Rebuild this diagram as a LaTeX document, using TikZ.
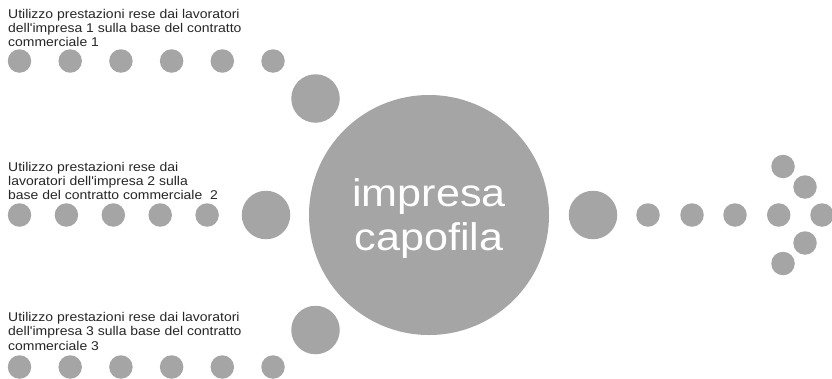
\documentclass[tikz,border=0pt]{standalone}
\usepackage{fontspec}
\newfontfamily\lblfont{Liberation Sans}[FakeStretch=1.1]
\newfontfamily\hubfont{Liberation Sans}[FakeStretch=1.12]
\definecolor{dotgray}{HTML}{A5A5A5}
\definecolor{lbltext}{HTML}{262626}
\begin{document}
\begin{tikzpicture}[x=1pt,y=-1pt,
  dot/.style={circle,fill=dotgray,draw=none,inner sep=0pt,minimum size=23.5pt},
  middot/.style={circle,fill=dotgray,draw=none,inner sep=0pt,minimum size=48.5pt},
  hub/.style={circle,fill=dotgray,draw=none,inner sep=0pt,minimum size=240pt},
  hubtext/.style={anchor=base,inner sep=0pt,text=white,align=center,
    font=\hubfont\fontsize{38.5}{43.3}\selectfont},
  lbl/.style={anchor=base west,inner sep=0pt,align=left,text=lbltext,
    font=\lblfont\fontsize{12.7}{14.1}\selectfont}]
\useasboundingbox (0,0) rectangle (832,378);

% central company (text anchored on the baseline of its last line)
\node[hub] (hub) at (429,215) {};
\node[hubtext] (hubname) at (429,250) {impresa\\capofila};

% upper branch
\foreach \i [evaluate=\i as \xx using 19.5+50.7*(\i-1)] in {1,...,6}
  \node[dot] (a\i) at (\xx,61) {};
\node[middot] (am) at (315.5,98.5) {};
\node[lbl] (alabel) at (8,46.4) {Utilizzo prestazioni rese dai lavoratori\\dell'impresa 1 sulla base del contratto\\commerciale 1};

% middle branch
\foreach \i [evaluate=\i as \xx using 19.5+46.9*(\i-1)] in {1,...,5}
  \node[dot] (b\i) at (\xx,215) {};
\node[middot] (bm) at (266,215) {};
\node[lbl] (blabel) at (8,199.5) {Utilizzo prestazioni rese dai\\lavoratori dell'impresa 2 sulla\\base del contratto commerciale~ 2};

% lower branch
\foreach \i [evaluate=\i as \xx using 19.5+50.7*(\i-1)] in {1,...,6}
  \node[dot] (c\i) at (\xx,367) {};
\node[middot] (cm) at (315.5,330) {};
\node[lbl] (clabel) at (8,350) {Utilizzo prestazioni rese dai lavoratori\\dell'impresa 3 sulla base del contratto\\commerciale 3};

% outgoing arrow
\node[middot] (rm) at (593,215) {};
\node[dot] (r1) at (648,215) {};
\node[dot] (r2) at (692,215) {};
\node[dot] (r3) at (735,215) {};
\node[dot] (r4) at (778.7,215) {};
\node[dot] (tip) at (822,215) {};
\node[dot] (u1) at (783,166.5) {};
\node[dot] (u2) at (805,187) {};
\node[dot] (l1) at (805,243) {};
\node[dot] (l2) at (783,263.5) {};
\end{tikzpicture}
\end{document}
